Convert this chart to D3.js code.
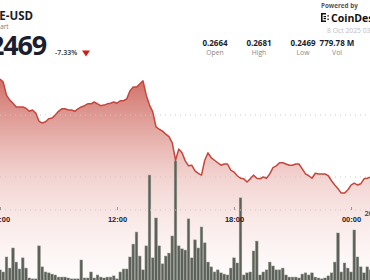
<!DOCTYPE html>
<html>
<head>
<meta charset="utf-8">
<script src="https://cdn.jsdelivr.net/npm/d3@7"></script>
<style>
  html, body { margin: 0; padding: 0; background: #fff; overflow: hidden; }
  svg { display: block; font-family: "Open Sans", "Noto Sans", sans-serif; }
</style>
</head>
<body>
<div id="chart"></div>
<script>
// header texts
var symbol = "DOGE-USD";
var subtitle = "Chart";
var lastPrice = "0.2469";
var changePct = "-7.33%";
var statLabels = ["Open", "High", "Low", "Vol"];
var statValues = ["0.2664", "0.2681", "0.2469", "779.78 M"];
var dateText = "8 Oct 2025 03:00 UTC";

// x axis ticks (hours of day)
var tickLabels = ["06:00", "12:00", "18:00", "00:00"];
var gridPrices = [0.26, 0.25];
var volLabel = "20M";

// 10 minute samples starting 7 Oct 06:00
var prices = [
  0.2658, 0.2653, 0.2632, 0.2624, 0.2619, 0.2613, 0.2613, 0.2613, 0.2611, 0.2606,
  0.2608, 0.2603, 0.2590, 0.2587, 0.2589, 0.2594, 0.2595, 0.2600, 0.2606, 0.2610,
  0.2610, 0.2608, 0.2608, 0.2606, 0.2610, 0.2613, 0.2615, 0.2618, 0.2618, 0.2621,
  0.2618, 0.2615, 0.2616, 0.2618, 0.2619, 0.2621, 0.2619, 0.2623, 0.2623, 0.2626,
  0.2639, 0.2645, 0.2645, 0.2650, 0.2655, 0.2632, 0.2616, 0.2605, 0.2581, 0.2577,
  0.2574, 0.2569, 0.2565, 0.2555, 0.2527, 0.2545, 0.2539, 0.2526, 0.2518, 0.2519,
  0.2510, 0.2506, 0.2503, 0.2527, 0.2539, 0.2531, 0.2527, 0.2523, 0.2519, 0.2521,
  0.2521, 0.2511, 0.2508, 0.2502, 0.2498, 0.2497, 0.2492, 0.2497, 0.2503, 0.2498,
  0.2497, 0.2500, 0.2498, 0.2505, 0.2515, 0.2518, 0.2523, 0.2523, 0.2521, 0.2519,
  0.2519, 0.2521, 0.2521, 0.2513, 0.2505, 0.2502, 0.2498, 0.2506, 0.2505, 0.2505,
  0.2505, 0.2502, 0.2494, 0.2487, 0.2481, 0.2474, 0.2474, 0.2479, 0.2487, 0.2490,
  0.2487, 0.2489, 0.2497, 0.2498, 0.2500
];

// volume per candle, millions
var volumes = [
  3.7, 3.0, 8.0, 4.3, 11.0, 6.3, 4.0, 7.7, 4.3, 1.0,
  0.7, 0.7, 11.7, 4.7, 3.0, 2.7, 2.3, 2.0, 1.3, 1.3,
  1.3, 1.0, 0.7, 0.7, 0.7, 7.0, 1.0, 1.0, 3.0, 1.0,
  2.0, 1.3, 1.0, 1.3, 1.3, 1.7, 0.7, 3.0, 4.0, 4.0,
  8.0, 12.3, 16.3, 8.3, 3.7, 11.7, 35.3, 7.7, 21.0, 11.7,
  5.7, 8.3, 9.3, 15.0, 40.0, 11.7, 10.7, 10.3, 20.7, 7.7,
  13.7, 11.0, 18.0, 12.7, 6.3, 4.7, 3.0, 3.7, 2.7, 2.3,
  2.0, 4.3, 7.7, 6.0, 27.7, 2.0, 2.7, 3.0, 10.0, 13.3,
  2.0, 3.0, 3.7, 6.3, 5.0, 3.7, 3.7, 4.3, 2.0, 1.3,
  1.3, 1.3, 1.0, 2.3, 2.7, 2.0, 2.7, 1.3, 1.0, 0.7,
  1.0, 1.7, 2.7, 6.3, 16.0, 3.0, 6.0, 4.3, 3.0, 17.0,
  8.0, 4.7, 2.7, 4.7, 3.7
];

var start = new Date(2025, 9, 7, 6, 0);
var data = prices.map(function (p, i) {
    return { t: new Date(start.getTime() + i * 600000), price: p, vol: volumes[i] };
});

/*********************** Plot Below *********************/
var width = 370, height = 280;
var lineColor = "#c4463c";
var textDark = "#1b1e2e";

var svg = d3.select("#chart").append("svg")
    .attr("width", width)
    .attr("height", height);

var x = d3.scaleTime()
    .domain([start, new Date(2025, 9, 8, 0, 0)])
    .range([0, 351]);

var y = d3.scaleLinear()
    .domain([0.25, 0.26])
    .range([177, 115]);

var yVol = d3.scaleLinear()
    .domain([0, 40])
    .range([281, 161]);

var defs = svg.append("defs");
var grad = defs.append("linearGradient")
    .attr("id", "areaGrad")
    .attr("gradientUnits", "userSpaceOnUse")
    .attr("x1", 0).attr("x2", 0)
    .attr("y1", 75).attr("y2", 280);
grad.append("stop").attr("offset", "0%").attr("stop-color", "#c2463c").attr("stop-opacity", 0.8);
grad.append("stop").attr("offset", "50%").attr("stop-color", "#d6766c").attr("stop-opacity", 0.32);
grad.append("stop").attr("offset", "100%").attr("stop-color", "#f2c8c2").attr("stop-opacity", 0.06);

var area = d3.area()
    .x(function (d) { return x(d.t); })
    .y0(281)
    .y1(function (d) { return y(d.price); });

var plotLine = d3.line()
    .x(function (d) { return x(d.t); })
    .y(function (d) { return y(d.price); });

svg.append("path")
    .datum(data)
    .attr("d", area)
    .style("fill", "url(#areaGrad)");

// dotted grid
svg.append("g")
    .selectAll("line")
    .data(gridPrices)
    .enter().append("line")
    .attr("x1", 0).attr("x2", width)
    .attr("y1", function (d) { return y(d); })
    .attr("y2", function (d) { return y(d); })
    .style("stroke", "#c9c9c9")
    .style("stroke-width", 1)
    .style("stroke-dasharray", "1,4");

// volume bars
var bw = 2.6;
svg.append("g")
    .selectAll("rect")
    .data(data)
    .enter().append("rect")
    .attr("x", function (d) { return x(d.t) - bw / 2; })
    .attr("y", function (d) { return yVol(d.vol); })
    .attr("width", bw)
    .attr("height", function (d) { return 281 - yVol(d.vol); })
    .style("fill", "#5b6058")
    .style("stroke", "#8d9289")
    .style("stroke-width", 0.5);

svg.append("path")
    .datum(data)
    .attr("d", plotLine)
    .style("fill", "none")
    .style("stroke-width", "1.5px")
    .style("stroke-linejoin", "round")
    .style("stroke", lineColor);

// x axis
var tickTimes = tickLabels.map(function (s, i) {
    return new Date(start.getTime() + i * 6 * 3600000);
});
var xAxis = d3.axisBottom(x)
    .tickValues(tickTimes)
    .tickFormat(function (d, i) { return tickLabels[i]; })
    .tickSize(3);

var gx = svg.append("g")
    .attr("class", "x axis")
    .attr("transform", "translate(0,207)")
    .call(xAxis);
gx.select(".domain")
    .attr("d", "M0,3H" + width)
    .style("stroke", "#c9c9c9")
    .style("stroke-dasharray", "1,4");
gx.selectAll(".tick line").style("stroke", "#9a9a9a");
gx.selectAll(".tick text")
    .attr("y", 10)
    .style("font-size", "7.5px")
    .style("font-weight", 700)
    .style("fill", textDark);

// right edge label, mostly outside the crop
svg.append("text")
    .attr("x", 364.5).attr("y", 216)
    .style("font-size", "7.5px")
    .style("font-weight", 700)
    .style("fill", "#555")
    .text(volLabel);

/****************** Header Below **************************/
var head = svg.append("g");

head.append("text")
    .attr("x", 33).attr("y", 20)
    .attr("text-anchor", "end")
    .style("font-size", "11.5px")
    .style("font-weight", 700)
    .style("fill", textDark)
    .text(symbol);

head.append("text")
    .attr("x", 8.5).attr("y", 28.5)
    .attr("text-anchor", "end")
    .style("font-size", "6.3px")
    .style("fill", "#777")
    .text(subtitle);

head.append("text")
    .attr("x", 46).attr("y", 55)
    .attr("text-anchor", "end")
    .style("font-size", "27px")
    .style("font-weight", 700)
    .style("letter-spacing", "-1.2px")
    .style("fill", textDark)
    .text(lastPrice);

head.append("text")
    .attr("x", 55).attr("y", 55)
    .style("font-size", "7px")
    .style("font-weight", 600)
    .style("fill", "#333")
    .text(changePct);

head.append("path")
    .attr("d", "M82,50.5L90,50.5L86,56.5Z")
    .style("fill", "#cf1f1a");

var statX = [215, 259, 303, 337];
var stats = head.selectAll(".stat")
    .data(statValues)
    .enter().append("g")
    .attr("class", "stat")
    .attr("transform", function (d, i) { return "translate(" + statX[i] + ",0)"; });
stats.append("text")
    .attr("y", 46)
    .attr("text-anchor", "middle")
    .style("font-size", "8px")
    .style("font-weight", 700)
    .style("fill", textDark)
    .text(function (d) { return d; });
stats.append("text")
    .attr("y", 55)
    .attr("text-anchor", "middle")
    .style("font-size", "6.8px")
    .style("fill", "#888")
    .text(function (d, i) { return statLabels[i]; });

head.append("text")
    .attr("x", 321).attr("y", 8)
    .style("font-size", "6.3px")
    .style("font-weight", 700)
    .style("fill", "#555")
    .text("Powered by");

// logo mark
var logo = head.append("g").attr("transform", "translate(321,13)");
logo.append("path")
    .attr("d", "M0,0H5V1.6H1.6V7.4H5V9H0Z")
    .style("fill", "#111");
logo.append("rect").attr("x", 2.6).attr("y", 3).attr("width", 2.4).attr("height", 1.2).style("fill", "#111");
logo.append("rect").attr("x", 2.6).attr("y", 5).attr("width", 2.4).attr("height", 1.2).style("fill", "#111");
logo.append("rect").attr("x", 6.4).attr("y", 2.2).attr("width", 1.4).attr("height", 1.4).style("fill", "#111");
logo.append("rect").attr("x", 6.4).attr("y", 5.6).attr("width", 1.4).attr("height", 1.4).style("fill", "#111");

head.append("text")
    .attr("x", 331).attr("y", 22)
    .style("font-size", "10.5px")
    .style("font-weight", 700)
    .style("fill", "#111")
    .text("CoinDesk");

head.append("text")
    .attr("x", 327).attr("y", 33)
    .style("font-size", "6.8px")
    .style("fill", "#bdbdbd")
    .text(dateText);
</script>
</body>
</html>
